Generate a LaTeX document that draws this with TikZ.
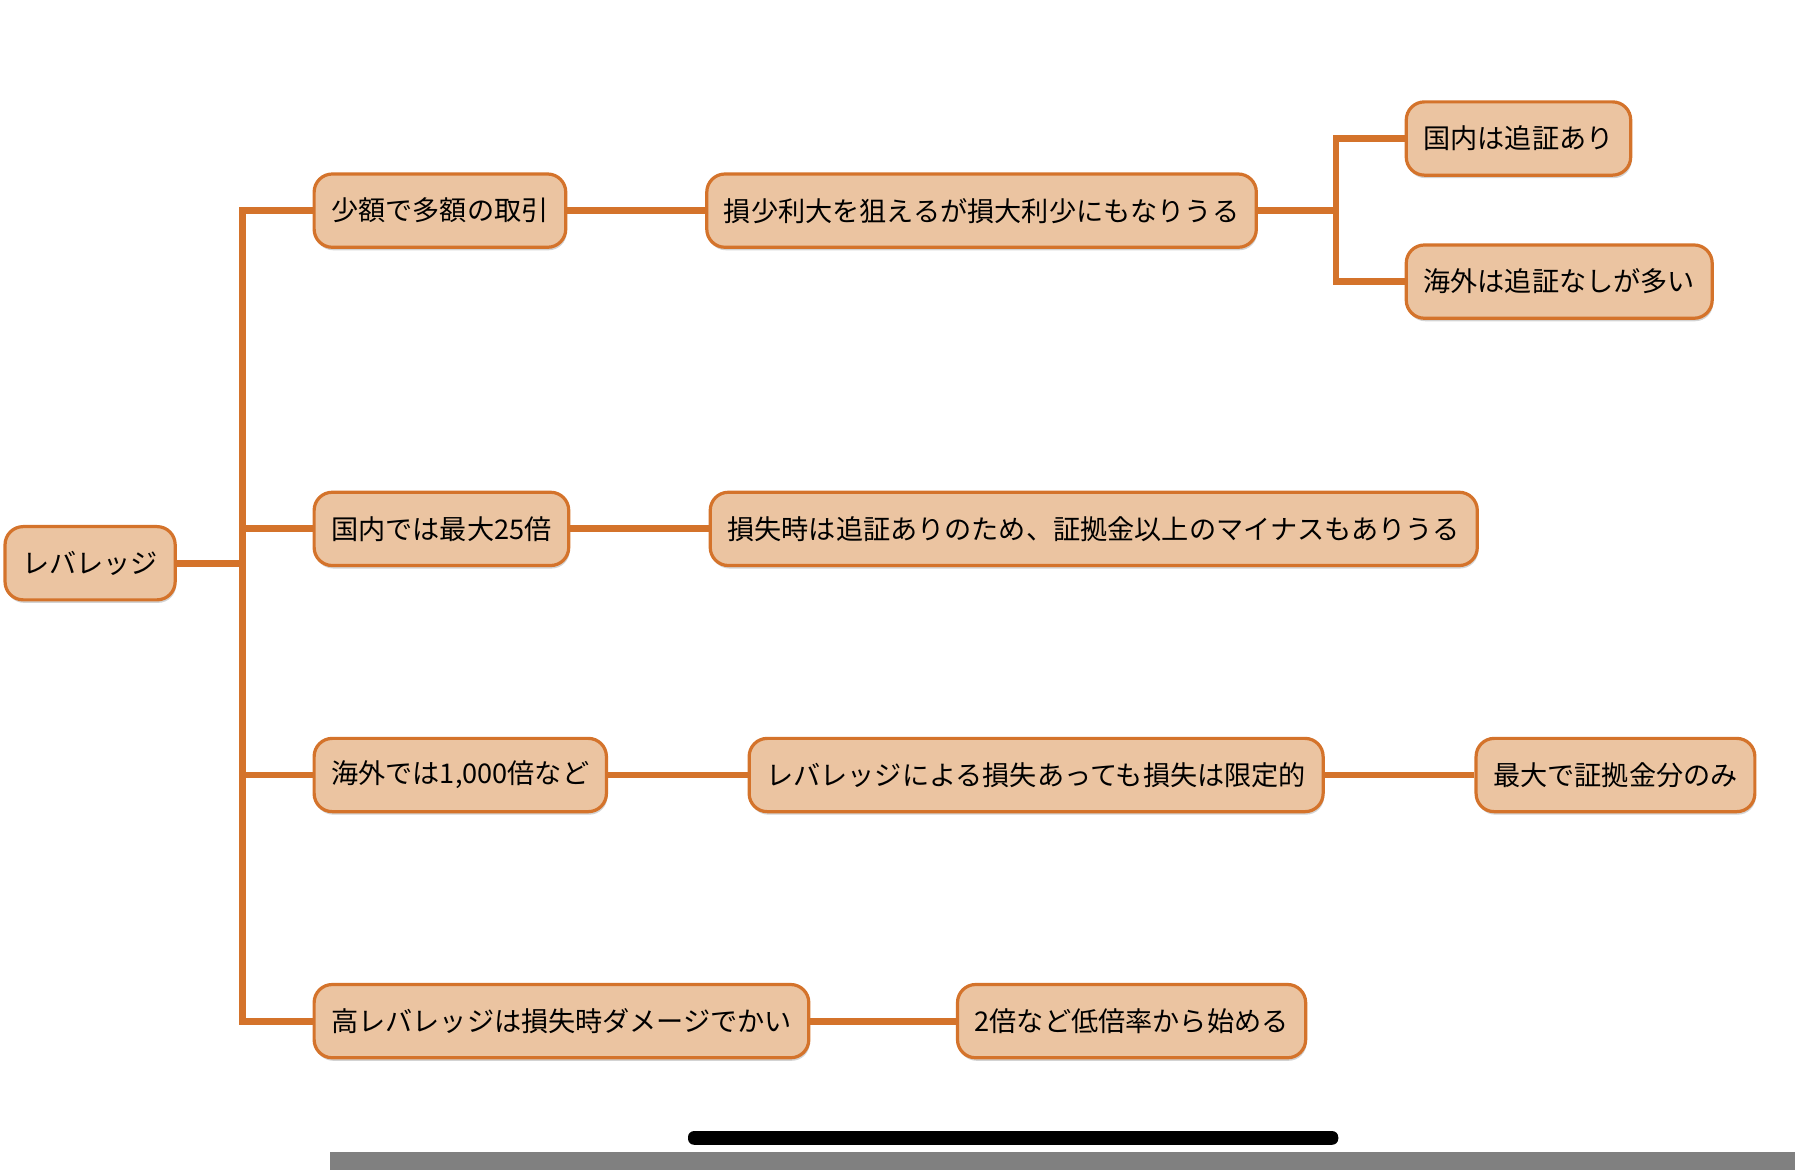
\documentclass[tikz,border=0pt]{standalone}
\usepackage{fontspec}
\setmainfont{Noto Sans CJK JP}
\usetikzlibrary{positioning,shadows}
\definecolor{boxfill}{HTML}{EBC4A1}
\definecolor{boxline}{HTML}{D4732B}

\begin{document}
\begin{tikzpicture}[
    % mind map boxes
    topic/.style={rectangle, draw=boxline, fill=boxfill, rounded corners=9pt,
                  line width=1.6pt, minimum height=1.28cm, inner xsep=0.3cm,
                  anchor=west, font=\fontsize{13.5}{16}\selectfont,
                  drop shadow={shadow xshift=0.5pt, shadow yshift=-1.5pt, opacity=0.35}},
    % connectors
    link/.style={draw=boxline, line width=3.4pt}
]
\useasboundingbox (0,0) rectangle (31.36,-20.44);

% root
\node[topic] (lev) at (0.06,-9.84) {レバレッジ};

% first level
\node[topic] (small) at (5.46,-3.68) {少額で多額の取引};
\node[topic] (dom) at (5.46,-9.24) {国内では最大25倍};
\node[topic] (ovs) at (5.46,-13.54) {海外では1,000倍など};
\node[topic] (high) at (5.46,-17.84) {高レバレッジは損失時ダメージでかい};

% second level
\node[topic] (risk) at (12.32,-3.68) {損少利大を狙えるが損大利少にもなりうる};
\node[topic] (loss) at (12.38,-9.24) {損失時は追証ありのため、証拠金以上のマイナスもありうる};
\node[topic] (limit) at (13.06,-13.54) {レバレッジによる損失あっても損失は限定的};
\node[topic] (low) at (16.70,-17.84) {2倍など低倍率から始める};

% third level
\node[topic] (domcall) at (24.54,-2.42) {国内は追証あり};
\node[topic] (ovscall) at (24.54,-4.92) {海外は追証なしが多い};
\node[topic] (only) at (25.76,-13.54) {最大で証拠金分のみ};

% trunk
\coordinate (tr) at (4.24,-9.84);
\draw[link] (lev.east) -- (tr);
\draw[link] (small.west) -| (tr) |- (high.west);
\draw[link] (dom.west) -- (dom.west -| tr);
\draw[link] (ovs.west) -- (ovs.west -| tr);

\draw[link] (small) -- (risk);
\draw[link] (dom) -- (loss);
\draw[link] (ovs) -- (limit);
\draw[link] (high) -- (low);
\draw[link] (limit) -- (only);

% branch on the right
\coordinate (br) at (23.34,-3.68);
\draw[link] (risk.east) -- (br);
\draw[link] (domcall.west) -| (br) |- (ovscall.west);

% screen bars
\fill[black, rounded corners=3pt] (12.02,-19.76) rectangle (23.38,-20.0);
\fill[gray] (5.76,-20.12) rectangle (31.36,-20.44);
\end{tikzpicture}
\end{document}
